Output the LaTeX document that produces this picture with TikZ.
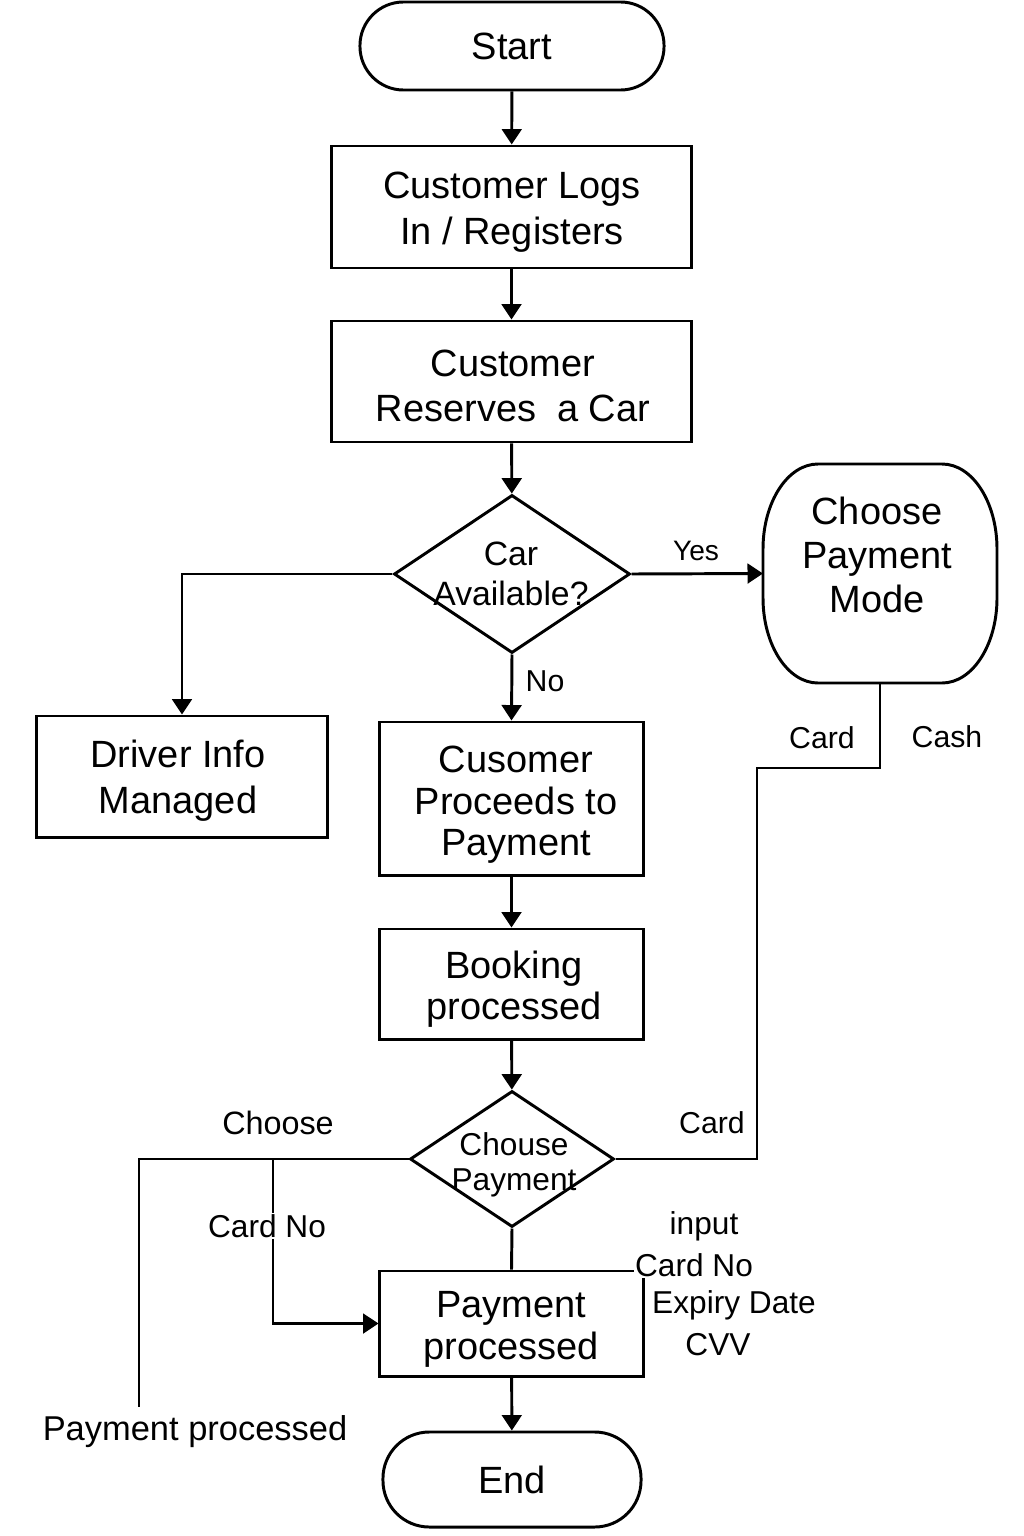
\documentclass[tikz,border=0pt]{standalone}
\usepackage{fontspec}
\setmainfont{Liberation Sans}
\usetikzlibrary{shapes.geometric,arrows.meta}
\begin{document}
\tikzset{
  lw/.style={line width=2.1pt},
  boxtext/.style={align=center, font=\fontsize{27}{32.5}\selectfont},
  procbox/.style={lw, draw, rectangle, inner sep=0pt, boxtext},
  termbox/.style={procbox, rounded corners=#1},
  dia/.style={lw, draw, diamond, inner sep=0pt},
  arr/.style={lw, -{Triangle[length=11pt,width=14pt]}},
  ln/.style={lw},
  lbl/.style={inner sep=1pt, font=\fontsize{21.5}{26}\selectfont},
}
\begin{tikzpicture}[x=0.025cm, y=-0.025cm]
\useasboundingbox (0,0) rectangle (1024,1536);

% nodes
\node[termbox=31pt, minimum width=7.6cm, minimum height=2.2cm] (start) at (512,46) {Start};
\node[procbox, minimum width=8.975cm, minimum height=3.05cm] (login) at (511.5,207) {};
\node[boxtext] (logintext) at (512,212) {Customer Logs\\In / Registers};
\node[procbox, minimum width=8.975cm, minimum height=3.025cm] (reserve) at (511.5,381.5) {};
\node[boxtext] (reservetext) at (513,386) {Customer\\Reserves\ \ a Car};
\node[dia, minimum width=5.9cm, minimum height=3.95cm] (car) at (512,574) {};
\node[align=center, font=\fontsize{24}{28.5}\selectfont] (cartext) at (511,574) {Car\\Available?};

\node[minimum width=5.85cm, minimum height=5.475cm, inner sep=0pt, outer sep=0pt] (mode) at (880,573.5) {};
\draw[lw] (818,464) -- (942,464) .. controls (972.4,464) and (997,502.1) .. (997,549) -- (997,598) .. controls (997,644.9) and (972.4,683) .. (942,683) -- (818,683) .. controls (787.6,683) and (763,644.9) .. (763,598) -- (763,549) .. controls (763,502.1) and (787.6,464) .. (818,464) -- cycle;
\node[boxtext, font=\fontsize{27}{31}\selectfont] (modetext) at (877,555) {Choose\\Payment\\Mode};

\node[procbox, minimum width=7.25cm, minimum height=3.025cm] (driver) at (182,776.5) {};
\node[boxtext] (drivertext) at (178,781) {Driver Info\\Managed};
\node[procbox, minimum width=6.575cm, minimum height=3.825cm] (proceed) at (511.5,798.5) {};
\node[boxtext, font=\fontsize{27}{29.5}\selectfont] (proceedtext) at (516,805) {Cusomer\\Proceeds to\\Payment};
\node[procbox, minimum width=6.575cm, minimum height=2.75cm] (booking) at (511.5,984) {};
\node[boxtext, font=\fontsize{27}{29.5}\selectfont] (bookingtext) at (514,989) {Booking\\processed};
\node[dia, minimum width=5.1cm, minimum height=3.4cm] (pay) at (512,1159) {};
\node[align=center, font=\fontsize{22.5}{25}\selectfont] (paytext) at (514,1165) {Chouse\\Payment};
\node[procbox, minimum width=6.575cm, minimum height=2.625cm] (proc) at (511.5,1323.5) {};
\node[boxtext, font=\fontsize{27}{30}\selectfont] (proctext) at (511,1329) {Payment\\processed};
\node[termbox=33pt, minimum width=6.45cm, minimum height=2.375cm] (end) at (512,1479.5) {End};

% coordinates
\coordinate (c1) at (757,768);
\coordinate (c2) at (139,1159);
\coordinate (c3) at (139,1407);
\coordinate (c4) at (273,1159);

% connectors
\draw[arr] (start) -- (login);
\draw[arr] (login) -- (reserve);
\draw[arr] (reserve) -- (car);
\draw[arr] (car.east) -- (mode.west);
\draw[arr] (car.west) -| (driver.north);
\draw[arr] (car.south) -- (proceed.north);
\draw[arr] (proceed) -- (booking);
\draw[arr] (booking) -- (pay);
\draw[ln] (mode.south) |- (c1) |- (pay.east);
\draw[ln] (pay.west) -- (c2) -- (c3);
\draw[arr] (c4) |- (proc.west);
\draw[ln] (pay.south) -- (proc.north);
\draw[arr] (proc) -- (end);

% labels
\node[lbl, font=\fontsize{20}{24}\selectfont] (yes) at (696,551) {Yes};
\node[lbl] (no) at (545,681) {No};
\node[lbl] (cardA) at (822,738) {Card};
\node[lbl] (cash) at (947,737) {Cash};
\node[lbl] (cardB) at (712,1123) {Card};
\node[lbl, font=\fontsize{23}{27}\selectfont] (choose) at (278,1123) {Choose};
\node[lbl, fill=white, font=\fontsize{22.5}{27}\selectfont] (cardno) at (267,1226) {Card No};
\node[lbl, font=\fontsize{24.5}{29}\selectfont] (paymentprocessed) at (195,1432) {Payment processed};
\node[lbl, font=\fontsize{22.5}{27}\selectfont] (input) at (704,1226) {input};
\node[lbl, fill=white, font=\fontsize{22.5}{27}\selectfont] (cardno2) at (694,1265) {Card No};
\node[lbl, font=\fontsize{22.5}{27}\selectfont] (expiry) at (734,1305) {Expiry Date};
\node[lbl, font=\fontsize{22.5}{27}\selectfont] (cvv) at (718,1345) {CVV};
\end{tikzpicture}
\end{document}
